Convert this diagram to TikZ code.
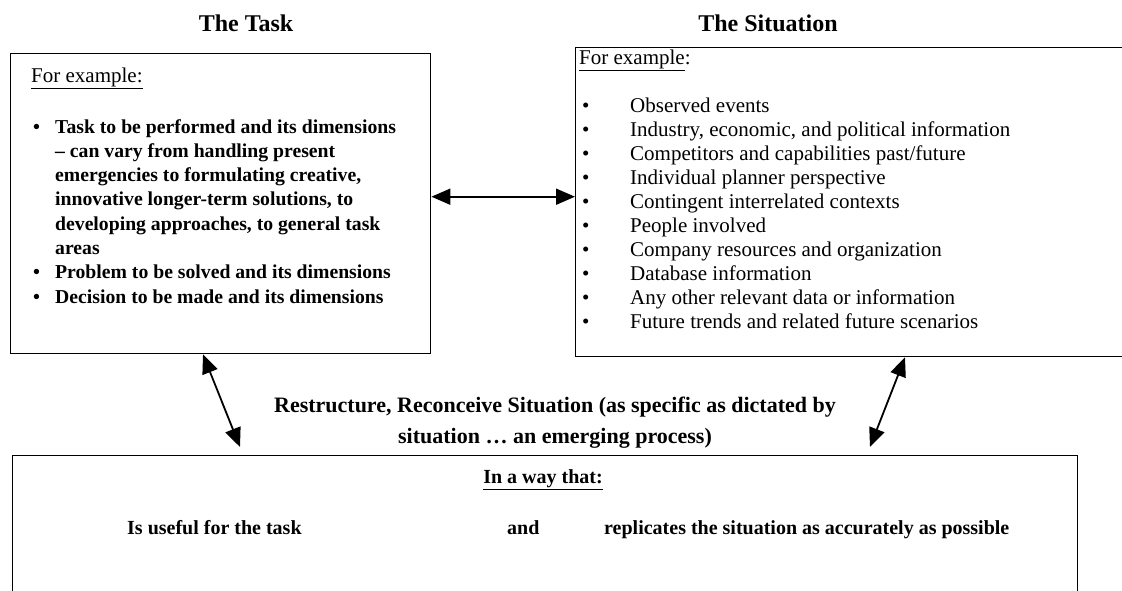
\documentclass[tikz,border=0pt]{standalone}
\usepackage{fontspec}
\setmainfont{Liberation Serif}
\usetikzlibrary{arrows.meta}

\begin{document}
\begin{tikzpicture}[
    x=1pt, y=-1pt,
    box/.style={draw, line width=1.4pt, rectangle, anchor=north west, inner sep=0pt},
    heading/.style={font=\fontsize{24}{28}\selectfont\bfseries},
    taskline/.style={anchor=base west, inner sep=0pt, font=\fontsize{19.7}{24}\selectfont\bfseries},
    sitline/.style={anchor=base west, inner sep=0pt, font=\fontsize{21}{24}\selectfont},
    wayline/.style={anchor=base west, inner sep=0pt, font=\fontsize{20}{24}\selectfont\bfseries},
    linkarrow/.style={{Triangle[length=19pt,width=16pt]}-{Triangle[length=19pt,width=16pt]}, line width=1.8pt}
  ]
  \useasboundingbox (0,0) rectangle (1122,590);
  \clip (0,0) rectangle (1122,590);

  % the three boxes
  \node[box, minimum width=420pt, minimum height=300pt] (taskbox) at (10,53) {};
  \node[box, minimum width=570pt, minimum height=309pt] (sitbox) at (575,47) {};
  \node[box, minimum width=1065pt, minimum height=160pt] (waybox) at (12,455) {};

  % headings
  \node[heading] (tasktitle) at (246,23) {The Task};
  \node[heading] (sittitle) at (768,23) {The Situation};

  % the task
  \node[anchor=base west, inner sep=0pt, font=\fontsize{21}{24}\selectfont] (taskex) at (31,82) {\underline{For example:}};
  \foreach \b/\txt [count=\i from 0] in {
      \textbullet/Task to be performed and its dimensions,
      /{-- can vary from handling present},
      /{emergencies to formulating creative,},
      /{innovative longer-term solutions, to},
      /{developing approaches, to general task},
      /areas,
      \textbullet/Problem to be solved and its dimensions,
      \textbullet/Decision to be made and its dimensions}
  {
    \node[taskline] (taskb\i) at (33,{133+24.3*\i}) {\b};
    \node[taskline] (task\i) at (55,{133+24.3*\i}) {\txt};
  }

  % the situation
  \node[sitline] (sitex) at (579,64) {\underline{For example}:};
  \foreach \txt [count=\i from 0] in {
      Observed events,
      {Industry, economic, and political information},
      Competitors and capabilities past/future,
      Individual planner perspective,
      Contingent interrelated contexts,
      People involved,
      Company resources and organization,
      Database information,
      Any other relevant data or information,
      Future trends and related future scenarios}
  {
    \node[sitline] (sitb\i) at (582,{112+24.1*\i}) {\textbullet};
    \node[sitline] (sit\i) at (630,{112+24.1*\i}) {\txt};
  }

  % restructuring
  \node[font=\fontsize{22}{31}\selectfont\bfseries, align=center] (restructure) at (555,423)
    {Restructure, Reconceive Situation (as specific as dictated by\\situation … an emerging process)};

  \node[wayline, anchor=center] (wayhead) at (543,480) {\underline{In a way that:}};
  \node[wayline] (useful) at (127,534) {Is useful for the task};
  \node[wayline] (andword) at (507,534) {and};
  \node[wayline] (replicate) at (604,534) {replicates the situation as accurately as possible};

  % links
  \draw[linkarrow] ([yshift=7pt]taskbox.east) -- ([yshift=7pt]taskbox.east -| sitbox.west);
  \draw[linkarrow] ([xshift=193pt]taskbox.south west) -- ([xshift=228pt,yshift=8pt]waybox.north west);
  \draw[linkarrow] ([xshift=330pt]sitbox.south west) -- ([xshift=858pt,yshift=8pt]waybox.north west);
\end{tikzpicture}
\end{document}
